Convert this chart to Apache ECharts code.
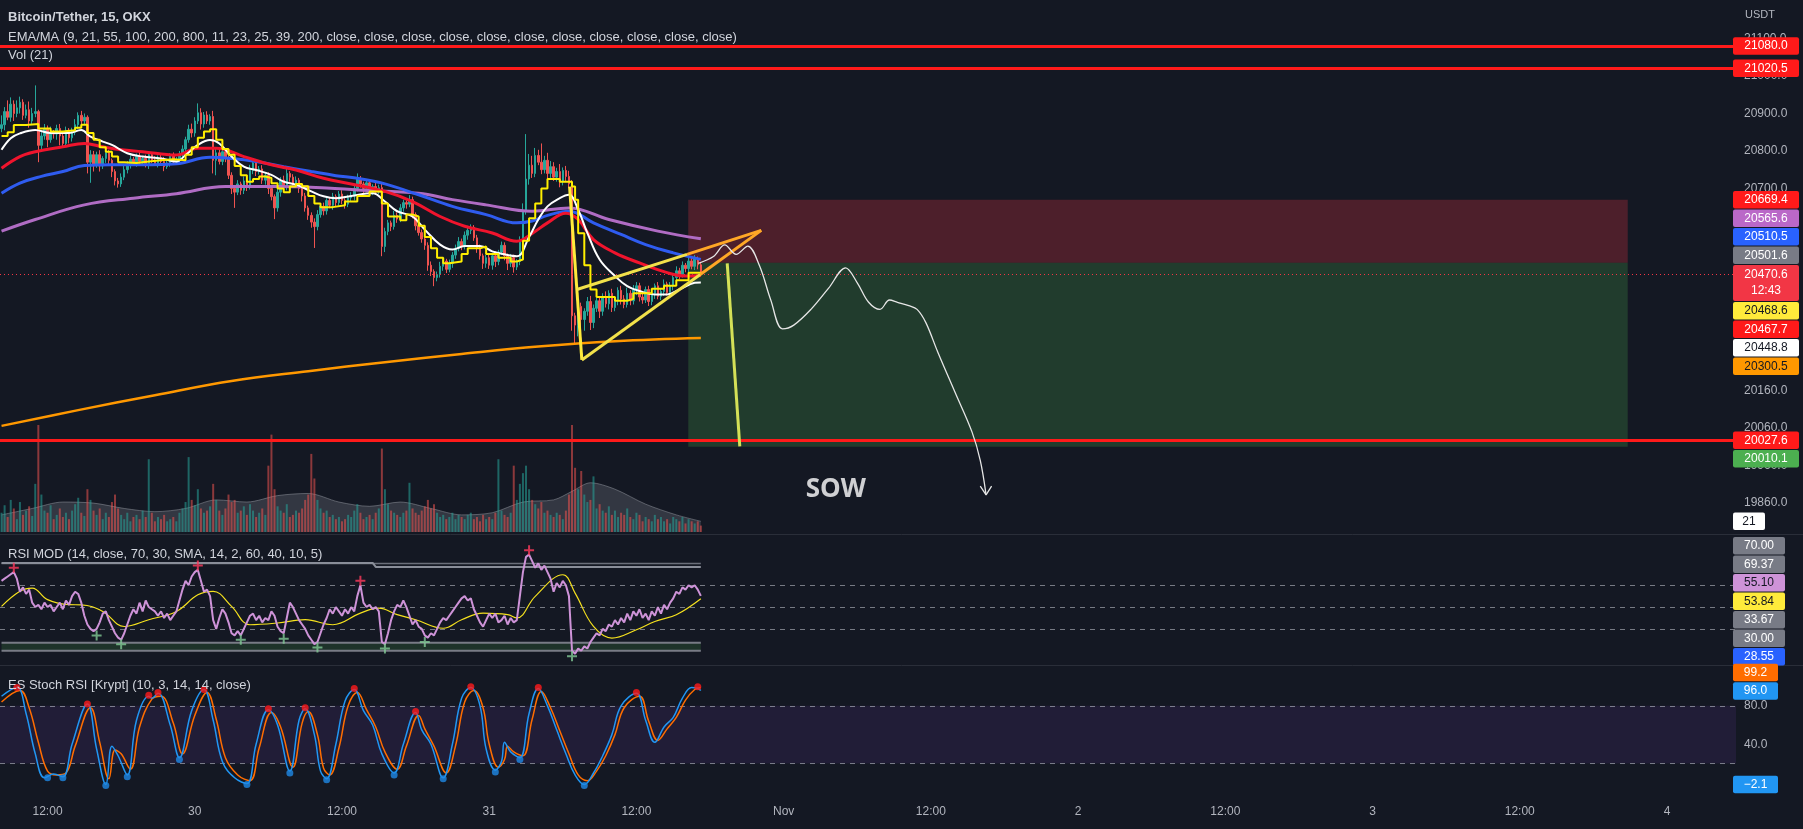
<!DOCTYPE html>
<html><head><meta charset="utf-8">
<script src="https://cdn.jsdelivr.net/npm/echarts@6/dist/echarts.min.js"></script>
<style>html,body{margin:0;padding:0;background:#141823;overflow:hidden}#c{width:1803px;height:829px}</style>
</head><body><div id="c"></div>
<script>
// ---------- time / tick labels ----------
const N_SLOTS = 566;                 // 15-minute slots shown on the time axis
const START_MINUTE = 8 * 60 + 15;    // first slot: Oct 29 08:15
const dayLabels = ['29', '30', '31', 'Nov', '2', '3', '4'];
const halfDayLabel = '12:00';
const priceTicks = [21100, 21000, 20900, 20800, 20700, 20160, 20060, 19960, 19860];
const stochTicks = [80, 40];

// ---------- candles (15m) ----------
const firstOpen = 20860;
const closes = [
20870,20905,20890,20925,20900,20915,20930,20895,20910,20880,
20900,20905,20815,20840,20860,20830,20850,20845,20860,20840,
20820,20855,20835,20850,20870,20895,20880,20890,20770,20790,
20765,20790,20760,20780,20795,20775,20745,20720,20712,20730,
20750,20765,20778,20768,20785,20772,20780,20762,20790,20776,
20766,20782,20772,20758,20768,20786,20772,20778,20792,20805,
20830,20858,20848,20880,20902,20872,20896,20880,20892,20775,
20795,20772,20798,20782,20735,20700,20690,20712,20695,20720,
20705,20748,20768,20745,20752,20722,20735,20700,20678,20648,
20690,20722,20705,20740,20730,20712,20722,20700,20680,20648,
20628,20610,20598,20630,20652,20640,20668,20655,20678,20662,
20685,20668,20658,20675,20680,20700,20725,20712,20700,20715,
20690,20705,20695,20702,20545,20585,20608,20598,20628,20618,
20648,20662,20658,20670,20630,20600,20582,20565,20548,20495,
20478,20462,20470,20492,20506,20484,20500,20522,20540,20558,
20545,20575,20588,20596,20568,20540,20520,20500,20515,20495,
20520,20505,20530,20548,20520,20500,20515,20490,20505,20560,
20640,20725,20762,20740,20788,20770,20750,20775,20740,20758,
20730,20745,20718,20748,20732,20712,20360,20335,20385,20350,
20372,20398,20342,20380,20400,20372,20410,20392,20420,20382,
20400,20428,20405,20390,20420,20400,20430,20440,20410,20402,
20430,20398,20420,20440,20412,20425,20445,20422,20440,20462,
20480,20470,20495,20486,20506,20492,20512,20496,20470.6];
const wickHi = [
25,12,30,18,10,20,15,8,14,22, 15,70,5,10,12,8,15,6,10,12, 8,10,6,12,15,8,12,10,5,12,
10,8,12,6,10,8,5,6,8,10, 12,8,10,6,8,12,6,10,8,6, 10,6,8,12,6,8,10,6,8,10,
8,12,15,10,25,12,8,10,6,15, 10,12,8,10,6,8,5,10,6,12, 8,15,10,6,8,10,6,8,5,6,
10,8,12,15,6,8,10,6,5,8, 6,8,10,12,8,10,6,8,10,6, 8,10,6,8,10,12,15,8,6,10,
8,6,10,8,12,10,8,6,12,8, 10,8,6,12,8,6,10,8,6,8, 10,6,8,12,8,6,10,8,10,12,
8,10,12,8,6,8,10,6,8,10, 8,12,6,10,8,6,10,8,6,12, 20,120,30,25,20,15,50,12,20,15,
12,10,20,8,12,15,10,8,12,10, 8,12,15,10,8,12,10,15,8,12, 10,8,12,10,15,8,12,10,8,12,
8,10,12,6,10,8,12,6,10,8, 12,8,10,6,12,8,10,6,8];
const wickLo = [
10,15,8,12,20,10,15,12,8,18, 8,10,45,12,10,20,8,12,15,25, 12,8,15,10,8,12,10,8,30,55,
20,10,15,8,12,10,15,12,10,8, 8,10,12,6,10,8,12,6,10,8, 6,10,8,12,6,10,8,6,12,8,
10,8,12,10,8,15,10,8,10,35, 40,8,10,12,10,15,42,8,12,10, 12,8,10,12,8,10,12,15,10,30,
10,12,8,10,12,8,10,12,15,10, 12,15,57,10,8,12,10,8,12,10, 8,10,12,8,10,12,8,10,12,8,
10,8,12,10,26,15,10,12,8,10, 8,10,12,8,10,12,8,10,12,15, 12,23,10,8,12,10,8,12,10,8,
10,8,12,10,8,12,10,15,12,10, 12,15,10,8,12,18,10,15,8,10, 12,10,15,12,10,8,12,10,15,12,
10,12,15,10,12,10,40,50,30,25, 30,12,20,15,10,18,12,10,15,12, 10,12,15,10,8,12,10,15,12,10,
8,12,10,15,8,10,12,8,10,12, 10,12,8,10,12,8,10,12,6];
const volumes = [
18,25,14,30,22,12,28,16,20,24, 15,45,100,35,20,18,25,12,16,22, 14,18,12,20,26,32,18,15,40,30,
20,16,22,12,18,14,28,35,22,16, 12,18,10,14,16,12,20,14,68,18, 10,14,12,16,10,12,14,10,18,22,
28,70,30,25,40,22,18,20,24,45, 30,20,16,22,35,28,30,18,20,24, 16,26,20,14,18,22,16,62,91,40,
24,20,18,26,14,16,20,18,22,30, 35,73,50,30,22,18,20,14,16,12, 14,10,12,16,14,20,26,18,12,14,
16,12,18,22,78,40,26,20,18,16, 14,18,20,46,22,18,16,20,24,30, 22,26,18,14,16,12,14,18,12,16,
14,12,16,18,12,14,10,16,12,14, 12,18,68,20,16,14,18,62,30,45, 55,62,40,30,26,22,28,18,20,16,
14,18,16,12,20,35,100,60,40,57, 35,28,30,52,22,26,20,18,24,16, 20,14,18,16,22,14,12,18,16,10,
14,12,10,16,12,14,10,12,8,14, 12,10,14,8,12,10,8,10,6];
const volumeMA = [[0,16],[10,22],[20,28],[30,27],[40,22],[50,19],[60,22],[70,30],[80,28],[90,34],[100,36],[110,28],[120,24],[130,28],[140,22],[150,16],[160,18],[170,28],[180,30],[186,38],[192,46],[200,40],[210,26],[220,16],[228,10]];

// ---------- moving averages [slot, price] ----------
const emaYellow = [[0,20840],[2,20850],[4,20869],[8,20872],[12,20860],[16,20852],[20,20855],[24,20862],[26,20870],[28,20848],[30,20830],[32,20810],[34,20798],[36,20785],[38,20770],[40,20768],[44,20772],[48,20775],[52,20778],[56,20775],[60,20790],[62,20810],[64,20835],[66,20852],[68,20858],[70,20830],[72,20805],[74,20790],[76,20760],[78,20735],[80,20718],[82,20725],[84,20732],[86,20728],[88,20714],[90,20700],[92,20690],[94,20705],[96,20712],[98,20706],[100,20680],[102,20660],[104,20650],[108,20655],[112,20665],[116,20680],[120,20692],[124,20660],[126,20625],[130,20615],[132,20630],[134,20625],[136,20600],[138,20570],[140,20540],[142,20515],[144,20500],[146,20505],[150,20525],[152,20540],[156,20545],[158,20525],[162,20515],[166,20505],[168,20510],[170,20560],[172,20620],[174,20660],[176,20700],[178,20725],[182,20718],[186,20705],[187,20670],[188,20580],[190,20495],[192,20430],[194,20410],[200,20400],[204,20405],[206,20420],[212,20432],[216,20440],[220,20455],[224,20475],[228,20468.6]];
const emaWhite = [[0,20803],[3,20834],[6,20847],[11,20856],[16,20848],[22,20848],[26,20856],[29,20838],[33,20825],[36,20816],[41,20794],[46,20785],[52,20780],[57,20772],[60,20789],[64,20816],[68,20829],[71,20820],[75,20785],[79,20758],[83,20749],[88,20736],[92,20718],[96,20710],[101,20692],[105,20679],[109,20674],[114,20680],[121,20687],[125,20665],[129,20639],[134,20625],[138,20590],[143,20550],[147,20537],[151,20546],[156,20546],[160,20532],[164,20524],[168,20519],[172,20570],[175,20617],[178,20652],[182,20674],[185,20683],[188,20643],[191,20581],[195,20510],[200,20466],[204,20439],[208,20426],[213,20417],[217,20417],[221,20430],[226,20448],[228,20448.8]];
const emaRed = [[0,20754],[6,20785],[11,20798],[20,20811],[27,20820],[33,20811],[39,20803],[46,20798],[57,20789],[64,20807],[70,20807],[79,20785],[88,20763],[96,20749],[105,20727],[114,20712],[125,20692],[134,20665],[143,20625],[151,20599],[160,20581],[168,20559],[173,20580],[178,20608],[184,20634],[188,20617],[193,20563],[200,20528],[208,20501],[217,20475],[223,20466],[228,20467.7]];
const emaBlue = [[0,20687],[6,20714],[13,20732],[20,20745],[27,20761],[36,20763],[46,20763],[57,20766],[68,20783],[75,20780],[83,20772],[92,20758],[101,20745],[109,20734],[116,20727],[125,20712],[136,20683],[147,20652],[158,20630],[168,20608],[173,20613],[178,20628],[185,20639],[193,20608],[202,20577],[210,20550],[219,20528],[228,20510.5]];
const emaPurple = [[0,20586],[11,20617],[27,20656],[43,20674],[57,20686],[73,20705],[90,20705],[106,20701],[116,20696],[136,20687],[147,20670],[158,20656],[173,20639],[185,20648],[198,20617],[214,20586],[228,20565.6]];
const emaOrange = [[0,20066],[25,20108],[50,20148],[75,20186],[100,20212],[125,20236],[150,20258],[175,20278],[200,20292],[228,20300.5]];

// ---------- drawings ----------
const levelLines = [21080.0, 21020.5, 20027.6];
const lastPrice = 20470.6;
const positionLevels = [20669.4, 20501.6, 20010.1];   // stop, entry, target
const positionSlots = [223.9, 530.2];
const flagpole = [[185.2,20705],[189.2,20242]];
const wedgeUpperYellow = [[187.6,20430],[223.5,20524]];
const wedgeUpperOrange = [[223.5,20524],[247.7,20588]];
const wedgeLowerYellow = [[189.2,20242],[227.8,20470]];
const wedgeLowerOrange = [[227.8,20470],[247.7,20588]];
const projection = [[236.6,20500],[240.7,20011]];
const pathPoints = [[227.2,20500],[232.1,20518],[235.8,20549],[239.5,20524],[243.3,20546],[247.1,20494],[250.8,20402],[254.6,20325],[258.3,20335],[263.9,20377],[269.6,20433],[275.2,20488],[279,20448],[282.7,20396],[286.4,20377],[289.5,20402],[292.1,20396],[295.8,20387],[298.5,20377],[301.4,20341],[305.2,20264],[310.8,20157],[316.4,20050],[319.1,19974],[321,19882]];
const arrowHead = [[319.1,19905],[321,19882],[322.8,19905]];
const sowLabel = [[272, 19897]];

// ---------- RSI ----------
const rsi = [
62,63,64,65,66,63,57,59,56,58, 52,50,51,49,52,50,51,48,50,52, 49,53,51,55,57,56,52,46,42,40,
39,40,43,47,48,44,41,38,36,35, 38,42,46,49,47,52,48,53,50,49, 48,46,48,45,47,44,46,48,53,58,
62,60,64,66,67,62,57,58,55,44, 40,45,49,47,43,38,37,39,37,40, 43,46,47,44,46,43,45,44,48,46,
41,39,38,45,52,50,47,44,42,40, 37,35,33,34,38,42,45,49,47,50, 48,46,49,47,50,48,55,60,52,50,
51,49,50,48,34,33,38,44,48,51, 50,53,50,46,42,44,41,40,37,36, 38,37,40,43,45,44,46,48,50,52,
54,55,53,54,49,46,43,41,44,47, 45,47,43,44,46,42,45,43,44,55, 66,73,74,71,68,70,67,69,66,63,
57,61,59,62,60,55,30,28.6,31,30, 32,31,34,36,38,37,40,39,42,41, 44,42,45,43,47,44,48,46,49,45,
47,44,48,46,50,47,51,49,52,54, 57,56,59,58,60,59,60,58,55.1];
const rsiSMA = [[0,50.3],[6,57.2],[10,58.7],[15,53.4],[22,51.1],[26,51],[33,48],[40,41.1],[48,44.2],[57,48],[64,55.6],[69,57.2],[75,50.3],[81,41.9],[90,42.7],[99,44.2],[108,41.9],[117,47.2],[123,49.5],[129,46.5],[135,44.2],[144,40.3],[150,44.2],[157,47.2],[165,46.5],[168,45],[174,54.9],[183,64.8],[187,56.4],[193,41.1],[199,35.8],[207,39.6],[213,43.4],[220,46.5],[228,53.84]];
const rsiUpper = [[0,70],[228,70]];
const rsiUpper2 = [[0,70.2],[121,70.2],[122,68.4],[228,68.4]];
const rsiLower = [[0,33.67],[228,33.67]];
const rsiFloor = [[0,30],[228,30]];
const rsiTopMarks = [[4,68],[64,69],[117,62],[172,76]];
const rsiBottomMarks = [[31,37],[39,33],[78,35],[92,35.5],[103,31.5],[125,31],[138,34],[186,27.5]];
const rsiLevels = [60, 50, 40];

// ---------- Stoch RSI ----------
const stochK = [[0,90],[5,99],[8,72],[11,30],[14,5],[17,9],[20,6],[23,40],[28,82],[31,35],[34,-2],[36,38],[38,28],[41,8],[44,65],[48,90],[49,88],[51,93],[55,60],[58,26],[62,75],[66,97],[69,65],[72,22],[76,5],[80,-1],[83,40],[87,76],[90,60],[94,12],[97,65],[99,77],[102,50],[104,12],[106,4],[109,40],[112,85],[115,97],[118,75],[121,60],[124,30],[128,10],[131,40],[135,73],[137,55],[140,40],[144,5],[147,40],[150,88],[153,99],[156,80],[158,35],[161,13],[163,22],[164,42],[166,32],[169,26],[172,72],[175,98],[178,80],[181,55],[184,30],[187,8],[190,-2],[193,10],[196,28],[199,50],[202,80],[207,93],[210,65],[213,42],[216,58],[219,68],[222,88],[225,99],[227,98],[228,96]];
const stochD = [[0,84],[6,96],[9,78],[12,42],[15,12],[18,8],[21,10],[24,38],[29,78],[32,42],[35,4],[37,34],[39,30],[42,14],[45,58],[49,87],[52,90],[56,62],[59,30],[63,70],[67,94],[70,66],[73,26],[77,8],[81,2],[84,36],[88,73],[91,58],[95,16],[98,62],[100,74],[103,50],[105,15],[107,8],[110,36],[113,80],[116,94],[119,76],[122,58],[125,32],[129,14],[132,38],[136,70],[138,56],[141,38],[145,10],[148,38],[151,84],[154,96],[157,78],[159,40],[162,16],[164,24],[165,38],[167,32],[170,28],[173,66],[176,95],[179,78],[182,54],[185,30],[188,8],[191,2],[194,12],[197,28],[200,50],[203,78],[208,90],[211,64],[214,44],[217,56],[220,68],[223,86],[226,97],[228,99.2]];
const stochTopDots = [[5,99],[28,82],[48,91],[51,94],[66,97],[87,77],[99,78],[115,98],[135,74],[153,100],[175,99],[207,94],[227,100]];
const stochBottomDots = [[15,5],[20,5],[34,-3],[41,6],[58,24],[80,-2],[94,10],[106,3],[128,8],[144,4],[161,11],[169,24],[190,-3]];
const stochLevels = [80, 20];

// ---------- right-axis value tags [value, text, background, text colour] ----------
const priceTags = [
 [21080.0,'21080.0','#ff1a1a','#ffffff'],[21020.5,'21020.5','#ff1a1a','#ffffff'],
 [20669.4,'20669.4','#ff1a1a','#ffffff'],[20565.6,'20565.6','#ba68c8','#ffffff'],
 [20510.5,'20510.5','#2962ff','#ffffff'],[20501.6,'20501.6','#787b86','#ffffff'],
 [20470.6,'20470.6\n12:43','#f23645','#ffffff'],[20468.6,'20468.6','#ffeb3b','#131722'],
 [20467.7,'20467.7','#ff1a1a','#ffffff'],[20448.8,'20448.8','#ffffff','#131722'],
 [20300.5,'20300.5','#ff9800','#131722'],[20027.6,'20027.6','#ff1a1a','#ffffff'],
 [20010.1,'20010.1','#4caf50','#ffffff']];
const volumeTags = [[10,'21','#ffffff','#131722']];
const rsiTags = [[70,'70.00','#787b86','#ffffff'],[69.37,'69.37','#787b86','#ffffff'],[55.10,'55.10','#ce93d8','#131722'],[53.84,'53.84','#ffeb3b','#131722'],[33.67,'33.67','#787b86','#ffffff'],[30,'30.00','#787b86','#ffffff'],[28.55,'28.55','#2962ff','#ffffff']];
const stochTagsUpper = [[99.2,'99.2','#ff6d00','#ffffff'],[96.0,'96.0','#2196f3','#ffffff']];
const stochTagsLower = [[-2.1,'\u22122.1','#2196f3','#ffffff']];

// ================= build =================
const FONT = '"Liberation Sans", "DejaVu Sans", sans-serif';
const categories = [];
for (let i = 0; i < N_SLOTS; i++) {
  const m = START_MINUTE + 15 * i, d = Math.floor(m / 1440), r = m % 1440;
  categories.push(r === 720 ? halfDayLabel : (r === 0 ? dayLabels[d] : ''));
}
const candleData = closes.map((c, i) => {
  const o = i === 0 ? firstOpen : closes[i - 1];
  return [o, c, Math.min(o, c) - wickLo[i], Math.max(o, c) + wickHi[i]];
});
const volumeData = volumes.map((v, i) => ({
  value: v,
  itemStyle: { color: candleData[i][1] >= candleData[i][0] ? 'rgba(38,166,154,0.55)' : 'rgba(239,83,80,0.55)' }
}));
const rsiData = rsi.map((v, i) => [i, v]);

function line(data, color, width, xi, yi, extra) {
  return Object.assign({ type: 'line', data, xAxisIndex: xi, yAxisIndex: yi, showSymbol: false, symbol: 'none',
    lineStyle: { color, width }, silent: true, z: 5 }, extra || {});
}
const plus = 'path://M4,0L6,0L6,4L10,4L10,6L6,6L6,10L4,10L4,6L0,6L0,4L4,4Z';
const dashed = { type: [5, 5], color: 'rgba(200,204,214,0.55)', width: 1 };

const option = {
  animation: false,
  backgroundColor: '#141823',
  textStyle: { fontFamily: FONT },
  grid: [
    { left: 0, right: 67, top: 0, height: 533 },
    { left: 0, right: 67, top: 425, height: 107 },
    { left: 0, right: 67, top: 535, height: 131 },
    { left: 0, right: 67, top: 666, height: 131 }
  ],
  xAxis: [
    { type: 'category', gridIndex: 0, data: categories, show: false },
    { type: 'value', gridIndex: 0, min: -0.5, max: N_SLOTS - 0.5, show: false },
    { type: 'category', gridIndex: 1, data: categories, show: false },
    { type: 'value', gridIndex: 1, min: -0.5, max: N_SLOTS - 0.5, show: false },
    { type: 'value', gridIndex: 2, min: -0.5, max: N_SLOTS - 0.5, show: false },
    { type: 'value', gridIndex: 3, min: -0.5, max: N_SLOTS - 0.5, show: false },
    { type: 'category', gridIndex: 3, data: categories, position: 'bottom',
      axisLine: { show: false, onZero: false }, axisTick: { show: false }, splitLine: { show: false },
      axisLabel: { interval: (i, v) => v !== '', color: '#b2b5be', fontSize: 12, margin: 9, fontFamily: FONT } }
  ],
  yAxis: [
    { type: 'value', gridIndex: 0, position: 'right', min: 19780, max: 21203,
      splitLine: { show: false }, axisLine: { show: false }, axisTick: { show: false },
      axisLabel: { customValues: priceTicks, formatter: v => Number(v).toFixed(1), color: '#b2b5be', fontSize: 12, margin: 8, align: 'left', fontFamily: FONT } },
    { type: 'value', gridIndex: 1, min: 0, max: 100, show: false },
    { type: 'value', gridIndex: 2, min: 23, max: 83, show: false },
    { type: 'value', gridIndex: 3, position: 'right', min: -15, max: 121.5,
      splitLine: { show: false }, axisLine: { show: false }, axisTick: { show: false },
      axisLabel: { customValues: stochTicks, formatter: v => Number(v).toFixed(1), color: '#b2b5be', fontSize: 12, margin: 8, align: 'left', fontFamily: FONT } }
  ],
  series: [
    // position tool + level lines
    line([[positionSlots[0], positionLevels[1]]], 'transparent', 0, 1, 0, {
      z: 1,
      markArea: { silent: true, data: [
        [{ xAxis: positionSlots[0], yAxis: positionLevels[0], itemStyle: { color: 'rgba(242,54,69,0.26)' } }, { xAxis: positionSlots[1], yAxis: positionLevels[1] }],
        [{ xAxis: positionSlots[0], yAxis: positionLevels[1], itemStyle: { color: 'rgba(76,175,80,0.24)' } }, { xAxis: positionSlots[1], yAxis: positionLevels[2] }]
      ] },
      markLine: { silent: true, symbol: ['none', 'none'], label: { show: false },
        data: levelLines.map(v => ({ yAxis: v, lineStyle: { color: '#ff1a1a', width: 3, type: 'solid' } }))
          .concat([{ yAxis: lastPrice, lineStyle: { color: '#f23645', width: 1, type: [1, 3] } }]) }
    }),
    // volume
    { type: 'line', data: volumeMA, xAxisIndex: 3, yAxisIndex: 1, smooth: 0.3, symbol: 'none', silent: true, z: 1,
      lineStyle: { width: 1, color: 'rgba(150,153,162,0.5)' }, areaStyle: { color: 'rgba(120,123,134,0.45)' } },
    { type: 'bar', data: volumeData, xAxisIndex: 2, yAxisIndex: 1, barWidth: 2, silent: true, z: 2 },
    // candles
    { type: 'candlestick', data: candleData, xAxisIndex: 0, yAxisIndex: 0, barWidth: 2, silent: true, z: 3,
      itemStyle: { color: '#26a69a', color0: '#ef5350', borderColor: '#26a69a', borderColor0: '#ef5350', borderWidth: 1 } },
    // moving averages
    line(emaOrange, '#ff9800', 2.5, 1, 0, { smooth: 0.4 }),
    line(emaPurple, '#b06cc4', 3, 1, 0, { smooth: 0.4 }),
    line(emaBlue, '#2f5cf0', 3, 1, 0, { smooth: 0.4 }),
    line(emaRed, '#f0142d', 3, 1, 0, { smooth: 0.4 }),
    line(emaWhite, '#ffffff', 2, 1, 0, { smooth: 0.4 }),
    line(emaYellow, '#ffee00', 2, 1, 0, { step: 'end' }),
    // drawings
    line(flagpole, '#ffeb3b', 3, 1, 0, { z: 8 }),
    line(wedgeUpperYellow, '#f2e14a', 3, 1, 0, { z: 8 }),
    line(wedgeLowerYellow, '#f2e14a', 3, 1, 0, { z: 8 }),
    line(wedgeUpperOrange, '#ffa726', 3, 1, 0, { z: 8 }),
    line(wedgeLowerOrange, '#ffa726', 3, 1, 0, { z: 8 }),
    line(projection, '#d4e157', 3, 1, 0, { z: 8 }),
    line(pathPoints, '#e6e6e6', 1.3, 1, 0, { z: 8, smooth: 0.35 }),
    line(arrowHead, '#e6e6e6', 1.3, 1, 0, { z: 8 }),
    { type: 'scatter', data: sowLabel, xAxisIndex: 1, yAxisIndex: 0, symbolSize: 1, silent: true, z: 9,
      itemStyle: { color: 'transparent' },
      label: { show: true, position: 'inside', formatter: 'SOW', color: '#ffffff', fontSize: 26, fontWeight: 'bold', fontFamily: '"Open Sans", "Noto Sans", sans-serif' } },
    // RSI
    line(rsiUpper, '#6b6f7a', 1.5, 4, 2),
    line(rsiUpper2, '#8a8e99', 2, 4, 2),
    line(rsiLower, '#787b86', 2, 4, 2, {
      markArea: { silent: true, data: [[{ xAxis: 0, yAxis: 30, itemStyle: { color: 'rgba(76,175,80,0.18)' } }, { xAxis: 228, yAxis: 33.67 }]] } }),
    line(rsiFloor, '#787b86', 2, 4, 2),
    line(rsiSMA, '#f5e11e', 1.2, 4, 2, { smooth: 0.4, z: 6 }),
    line(rsiData, '#ce93d8', 2, 4, 2, { z: 7,
      markLine: { silent: true, symbol: ['none', 'none'], label: { show: false }, lineStyle: dashed,
        data: rsiLevels.map(v => ({ yAxis: v })) } }),
    { type: 'scatter', data: rsiTopMarks, xAxisIndex: 4, yAxisIndex: 2, symbol: plus, symbolSize: 10, silent: true, z: 8, itemStyle: { color: '#ff3b5c' } },
    { type: 'scatter', data: rsiBottomMarks, xAxisIndex: 4, yAxisIndex: 2, symbol: plus, symbolSize: 10, silent: true, z: 8, itemStyle: { color: '#81c995' } },
    // Stoch RSI
    line(stochD, '#ff6d00', 1.5, 5, 3, { smooth: 0.4,
      markArea: { silent: true, data: [[{ xAxis: -0.5, yAxis: 20, itemStyle: { color: 'rgba(120,70,190,0.13)' } }, { xAxis: N_SLOTS - 0.5, yAxis: 80 }]] },
      markLine: { silent: true, symbol: ['none', 'none'], label: { show: false }, lineStyle: dashed,
        data: stochLevels.map(v => ({ yAxis: v })) } }),
    line(stochK, '#2196f3', 1.5, 5, 3, { smooth: 0.4, z: 6 }),
    { type: 'scatter', data: stochTopDots, xAxisIndex: 5, yAxisIndex: 3, symbolSize: 7, silent: true, z: 8, itemStyle: { color: '#ff1a1a' } },
    { type: 'scatter', data: stochBottomDots, xAxisIndex: 5, yAxisIndex: 3, symbolSize: 7, silent: true, z: 8, itemStyle: { color: '#1e88e5' } }
  ]
};

const chart = echarts.init(document.getElementById('c'));
chart.setOption(option);

// ---- legend texts, separators and stacked value tags ----
function txt(text, x, y, size, color, weight) {
  return { type: 'text', z: 100, x, y, silent: true,
    style: { text, fill: color, fontSize: size, fontFamily: FONT, fontWeight: weight || 'normal', verticalAlign: 'middle', align: 'left' } };
}
const graphics = [
  txt('Bitcoin/Tether, 15, OKX', 8, 17, 13, '#d1d4dc', 'bold'),
  txt('EMA/MA (9, 21, 55, 100, 200, 800, 11, 23, 25, 39, 200, close, close, close, close, close, close, close, close, close, close, close)', 8, 37, 13, '#d1d4dc'),
  txt('Vol (21)', 8, 55, 13, '#d1d4dc'),
  txt('RSI MOD (14, close, 70, 30, SMA, 14, 2, 60, 40, 10, 5)', 8, 554, 13, '#d1d4dc'),
  txt('ES Stoch RSI [Krypt] (10, 3, 14, 14, close)', 8, 685, 13, '#d1d4dc'),
  txt('USDT', 1745, 15, 11, '#b2b5be'),
  { type: 'line', z: 50, silent: true, shape: { x1: 0, y1: 534.5, x2: 1803, y2: 534.5 }, style: { stroke: '#2a2e39', lineWidth: 1 } },
  { type: 'line', z: 50, silent: true, shape: { x1: 0, y1: 665.5, x2: 1803, y2: 665.5 }, style: { stroke: '#2a2e39', lineWidth: 1 } }
];
// tags sit at their value; overlapping ones are stacked into a block centred on their values,
// but a block never rises above the place of its topmost member
function addTags(tags, yAxisIndex, paneTop, paneBottom, width, shift) {
  const H = 18.5;
  const items = tags.map(t => ({ y: chart.convertToPixel({ yAxisIndex }, t[0]) + (shift || 0), h: t[1].indexOf('\n') >= 0 ? 2 * H : H, t }));
  items.sort((a, b) => a.y - b.y);
  const clusters = [];
  const place = c => {
    let off = 0, sum = 0;
    for (const x of c.items) { sum += x.y - x.h / 2 - off; off += x.h; }
    c.h = off;
    c.mean = Math.max(paneTop, Math.min(paneBottom - c.h, sum / c.items.length));
  };
  for (const it of items) {
    const c0 = { items: [it] }; place(c0); clusters.push(c0);
    while (clusters.length > 1) {
      const b = clusters[clusters.length - 1], a = clusters[clusters.length - 2];
      if (a.mean + a.h <= b.mean) break;
      const c = { items: a.items.concat(b.items) }; place(c);
      clusters.splice(clusters.length - 2, 2, c);
    }
  }
  for (const c of clusters) {
    let t = Math.max(c.mean, c.items[0].y - c.items[0].h / 2);
    t = Math.max(paneTop, Math.min(paneBottom - c.h, t));
    for (const x of c.items) {
      graphics.push({ type: 'rect', z: 90, silent: true, shape: { x: 1733, y: t + 0.5, width, height: x.h - 1, r: 2 }, style: { fill: x.t[2] } });
      graphics.push({ type: 'text', z: 91, silent: true, x: 1733 + width / 2, y: t + x.h / 2,
        style: { text: x.t[1], fill: x.t[3], fontSize: 12, fontFamily: FONT, align: 'center', verticalAlign: 'middle', lineHeight: 16 } });
      t += x.h;
    }
  }
}
addTags(priceTags, 0, 0, 533, 66);
addTags(volumeTags, 1, 425, 533, 32);
addTags(rsiTags, 2, 535, 666, 52);
addTags(stochTagsUpper, 3, 663, 797, 45, -15);
addTags(stochTagsLower, 3, 663, 797, 45);
chart.setOption({ graphic: { elements: graphics } });
</script></body></html>
